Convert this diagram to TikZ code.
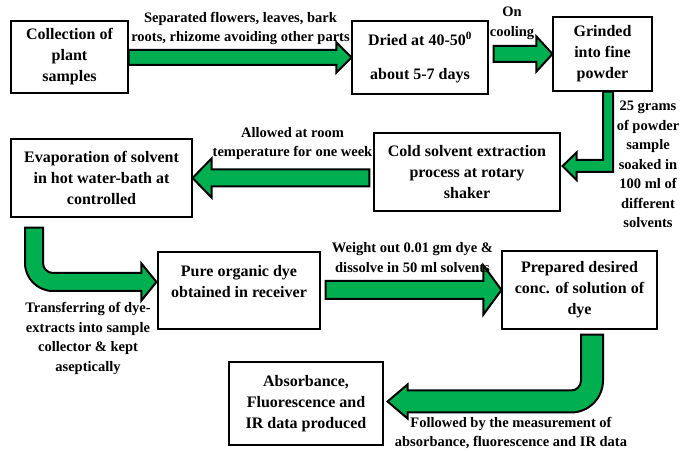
\documentclass[tikz,border=0pt]{standalone}
\usepackage{fontspec}
\setmainfont{Liberation Serif}
\usetikzlibrary{calc}
\definecolor{arrowgreen}{RGB}{0,176,80}
\newcommand\fatright[5]{%
  \draw [fatarrow] let \p1=(#1), \p2=(#2) in
    (\x1,\y2+#3) -- (\x2-#5,\y2+#3) -- (\x2-#5,\y2+#4) -- (\x2,\y2)
    -- (\x2-#5,\y2-#4) -- (\x2-#5,\y2-#3) -- (\x1,\y2-#3) -- cycle;}
\newcommand\fatleft[5]{%
  \draw [fatarrow] let \p1=(#1), \p2=(#2) in
    (\x1,\y2+#3) -- (\x2+#5,\y2+#3) -- (\x2+#5,\y2+#4) -- (\x2,\y2)
    -- (\x2+#5,\y2-#4) -- (\x2+#5,\y2-#3) -- (\x1,\y2-#3) -- cycle;}
\newcommand\bendright[6]{%
  \draw [fatarrow] let \p1=(#1), \p2=(#2) in
    (\x1-#3,\y1) -- (\x1+#3,\y1) -- (\x1+#3,\y2+#3+#6)
    arc [start angle=180,end angle=270,radius=#6]
    -- (\x2-#5,\y2+#3) -- (\x2-#5,\y2+#4) -- (\x2,\y2)
    -- (\x2-#5,\y2-#4) -- (\x2-#5,\y2-#3) -- (\x1+#3+#6,\y2-#3)
    arc [start angle=270,end angle=180,radius=#6+2*#3] -- cycle;}
\newcommand\bendleft[6]{%
  \draw [fatarrow] let \p1=(#1), \p2=(#2) in
    (\x1+#3,\y1) -- (\x1-#3,\y1) -- (\x1-#3,\y2+#3+#6)
    arc [start angle=0,end angle=-90,radius=#6]
    -- (\x2+#5,\y2+#3) -- (\x2+#5,\y2+#4) -- (\x2,\y2)
    -- (\x2+#5,\y2-#4) -- (\x2+#5,\y2-#3) -- (\x1-#3-#6,\y2-#3)
    arc [start angle=-90,end angle=0,radius=#6+2*#3] -- cycle;}
\begin{document}
\begin{tikzpicture}[x=1pt,y=1pt,
    box/.style={draw,line width=1.1pt,align=center,inner sep=2pt,
      font=\fontsize{16}{21}\selectfont\bfseries},
    fatarrow/.style={draw=black,line width=2pt,fill=arrowgreen}]
  \useasboundingbox (0,0) rectangle (683,450);
  \node [box,minimum width=117,minimum height=72] (collect) at (69.5,393) {Collection of\\plant\\samples};
  \node [box,minimum width=136,minimum height=73] (dried) at (420,392.5) {Dried at 40-50\textsuperscript{0}\\[13pt]about 5-7 days};
  \node [box,minimum width=99,minimum height=74] (grind) at (602.5,396) {Grinded\\into fine\\powder};
  \node [box,minimum width=186,minimum height=78] (cold) at (467,278) {Cold solvent extraction\\process at rotary\\shaker};
  \node [box,minimum width=181,minimum height=78] (evap) at (101.5,272) {Evaporation of solvent\\in hot water-bath at\\controlled};
  \node [box,minimum width=162,minimum height=77,text depth=18pt] (pure) at (239,159.5) {Pure organic dye\\obtained in receiver};
  \node [box,minimum width=155,minimum height=78] (prep) at (579.5,160) {Prepared desired\\conc. of solution of\\dye};
  \node [box,minimum width=154,minimum height=83] (absorb) at (306,46.5) {Absorbance,\\Fluorescence and\\IR data produced};
  \fatright{collect.east}{dried.west}{7.5}{15}{15}
  \fatright{$(dried.east)+(5,0)$}{grind.west}{8}{17.5}{16}
  \draw [fatarrow] let \p1=(grind.south), \p2=(cold.east) in
    (\x1+0.5,\y1) -- (\x1+10.5,\y1) -- (\x1+10.5,\y2) -- (\x2+16,\y2)
    -- (\x2+16,\y2-8) -- (\x2+2,\y2+6) -- (\x2+16,\y2+19.5) -- (\x2+16,\y2+12)
    -- (\x1+0.5,\y2+12) -- cycle;
  \fatleft{$(cold.west)+(-4,0)$}{evap.east}{8.5}{19.5}{19}
  \bendright{$(evap.south)+(-67.5,-10)$}{$(pure.west)+(-1,8.5)$}{9}{18.5}{15}{10}
  \fatright{$(pure.east)+(5,0)$}{prep.west}{9}{24.5}{18}
  \bendleft{$(prep.south)+(12.5,-5)$}{$(absorb.east)+(4,2)$}{11}{17}{20}{10}
  \begin{scope}[every node/.style={align=center,font=\fontsize{14.5}{19.5}\selectfont\bfseries}]
    \node (sep) at (240.5,421.5) {Separated flowers, leaves, bark\\roots, rhizome avoiding other parts};
    \node (cool) at (512,426.5) {On\\cooling};
    \node (soak) at (648,285.5) {25 grams\\of powder\\sample\\soaked in\\100 ml of\\different\\solvents};
    \node (room) at (292.5,306.5) {Allowed at room\\temperature for one week};
    \node (trans) at (88,111.5) {Transferring of dye-\\extracts into sample\\collector \& kept\\aseptically};
    \node (weigh) at (412.5,192.5) {Weight out 0.01 gm dye \&\\dissolve in 50 ml solvents};
    \node (meas) at (511,17) {Followed by the measurement of\\absorbance, fluorescence and IR data};
  \end{scope}
\end{tikzpicture}
\end{document}
